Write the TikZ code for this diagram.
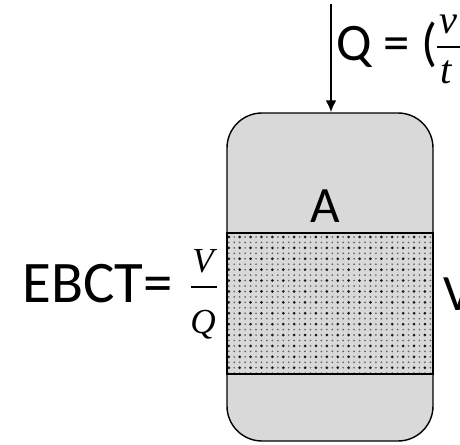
\documentclass[tikz,border=0pt]{standalone}
\usepackage{fontspec}
\setmainfont{Carlito}
\newfontfamily\mathserif{Liberation Serif}
\usetikzlibrary{patterns.meta, arrows.meta}
\tikzset{
    vessel/.style={draw, thick, fill=black!15, rounded corners=0.7cm, minimum width=4.12cm, minimum height=6.56cm, inner sep=0pt},
    bedbox/.style={draw, thick, preaction={fill=black!15},
        preaction={pattern={Dots[distance=3.1pt, radius=0.55pt]}, pattern color=black!60},
        pattern={Dots[distance=6.2pt, radius=0.85pt]}, pattern color=black!90,
        minimum width=4.12cm, minimum height=2.82cm, inner sep=0pt},
    bigtext/.style={font=\fontsize{29}{32}\selectfont, inner sep=0pt},
    ebcttext/.style={font=\fontsize{33.5}{36}\selectfont, inner sep=0pt},
    midtext/.style={font=\fontsize{30}{34}\selectfont, inner sep=0pt},
    fracpart/.style={font=\fontsize{20}{22}\mathserif\itshape, inner sep=0pt},
    flowpart/.style={font=\fontsize{23}{25}\mathserif\itshape, inner sep=0pt}
}
\begin{document}
\begin{tikzpicture}

    % Riquadro
    \useasboundingbox (0,0) rectangle (9.2,8.88);
    \clip (0,0) rectangle (9.2,8.88);

    % Colonna
    \node[vessel] (vessel) at (6.6,3.34) {};
    \node[bedbox] (bed) at (6.6,2.81) {};
    \node[bigtext, anchor=base] (top) at (6.5,4.44) {A};

    % Ingresso
    \coordinate (inlet) at (6.62,8.8);
    \draw[-{Latex[length=0.24cm, width=0.22cm]}, line width=1.2pt] (inlet) -- (inlet |- vessel.north);

    % Portata
    \node[midtext, anchor=base west] (flow) at (6.72,7.68) {Q = (};
    \node[flowpart, anchor=base] (flownum) at (8.96,8.22) {v};
    \node[flowpart, anchor=base] (flowden) at (8.92,7.22) {t};
    \draw[line width=1.1pt] (8.74,7.94) -- (9.2,7.94);

    % EBCT
    \node[ebcttext, anchor=base west] (ebct) at (0.44,2.84) {EBCT=};
    \node[fracpart, anchor=base] (ebctnum) at (4.06,3.44) {V};
    \node[fracpart, anchor=base] (ebctden) at (4.06,2.22) {Q};
    \draw[line width=1.1pt] (3.82,3.14) -- (4.34,3.14);

    % Volume
    \node[bigtext, anchor=base west] (volume) at (8.86,2.68) {V};

\end{tikzpicture}
\end{document}
